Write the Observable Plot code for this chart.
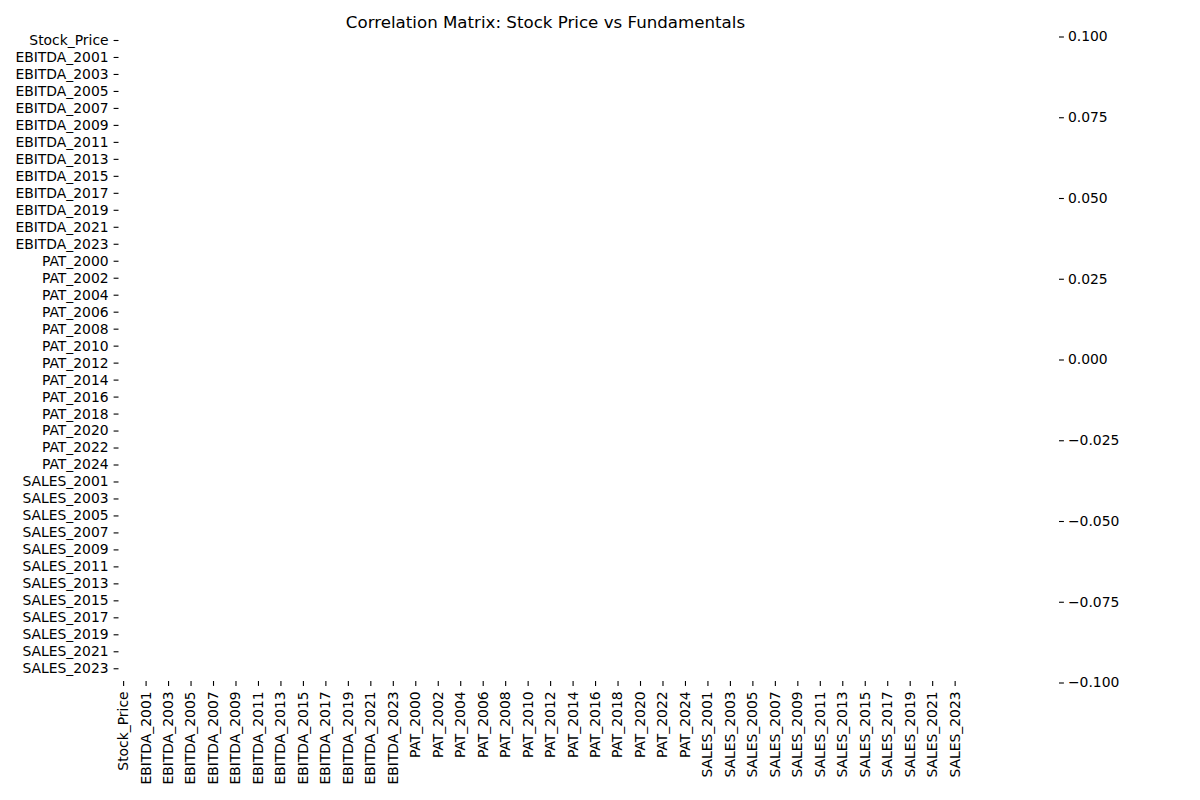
<!DOCTYPE html>
<html>
<head>
<meta charset="utf-8">
<script src="https://cdn.jsdelivr.net/npm/d3@7"></script>
<script src="https://cdn.jsdelivr.net/npm/@observablehq/plot@0.6"></script>
<style>
  html, body { margin: 0; padding: 0; background: #fff; }
  #wrap { position: relative; width: 1200px; height: 800px; font-family: "DejaVu Sans", sans-serif; }
  #title { position: absolute; left: 0; width: 1091px; top: 12.5px; text-align: center; font-size: 16.67px; color: #000; }
  #main, #cbar { position: absolute; top: 0; }
  #main { left: 0; }
  #cbar { left: 1000px; }
</style>
</head>
<body>
<div id="wrap">
  <div id="main"></div>
  <div id="cbar"></div>
  <div id="title">Correlation Matrix: Stock Price vs Fundamentals</div>
</div>
<script>
// Variables (rows and columns of the correlation matrix)
const variables = [
  "Stock_Price",
  "EBITDA_2000","EBITDA_2001","EBITDA_2002","EBITDA_2003","EBITDA_2004","EBITDA_2005","EBITDA_2006","EBITDA_2007","EBITDA_2008","EBITDA_2009",
  "EBITDA_2010","EBITDA_2011","EBITDA_2012","EBITDA_2013","EBITDA_2014","EBITDA_2015","EBITDA_2016","EBITDA_2017","EBITDA_2018","EBITDA_2019",
  "EBITDA_2020","EBITDA_2021","EBITDA_2022","EBITDA_2023","EBITDA_2024",
  "PAT_2000","PAT_2001","PAT_2002","PAT_2003","PAT_2004","PAT_2005","PAT_2006","PAT_2007","PAT_2008","PAT_2009",
  "PAT_2010","PAT_2011","PAT_2012","PAT_2013","PAT_2014","PAT_2015","PAT_2016","PAT_2017","PAT_2018","PAT_2019",
  "PAT_2020","PAT_2021","PAT_2022","PAT_2023","PAT_2024",
  "SALES_2000","SALES_2001","SALES_2002","SALES_2003","SALES_2004","SALES_2005","SALES_2006","SALES_2007","SALES_2008","SALES_2009",
  "SALES_2010","SALES_2011","SALES_2012","SALES_2013","SALES_2014","SALES_2015","SALES_2016","SALES_2017","SALES_2018","SALES_2019",
  "SALES_2020","SALES_2021","SALES_2022","SALES_2023","SALES_2024"
];

// Tick labels shown on both axes (every other variable)
const tickLabels = [
  "Stock_Price",
  "EBITDA_2001","EBITDA_2003","EBITDA_2005","EBITDA_2007","EBITDA_2009","EBITDA_2011",
  "EBITDA_2013","EBITDA_2015","EBITDA_2017","EBITDA_2019","EBITDA_2021","EBITDA_2023",
  "PAT_2000","PAT_2002","PAT_2004","PAT_2006","PAT_2008","PAT_2010","PAT_2012",
  "PAT_2014","PAT_2016","PAT_2018","PAT_2020","PAT_2022","PAT_2024",
  "SALES_2001","SALES_2003","SALES_2005","SALES_2007","SALES_2009","SALES_2011",
  "SALES_2013","SALES_2015","SALES_2017","SALES_2019","SALES_2021","SALES_2023"
];

// Colorbar tick values
const colorTicks = [-0.1, -0.075, -0.05, -0.025, 0, 0.025, 0.05, 0.075, 0.1];

// Correlation value for every pair: all undefined (NaN) in the source
const correlationValue = NaN;

const cells = [];
for (const row of variables) for (const col of variables) cells.push({x: col, y: row, r: correlationValue});

const fontStyle = {fontFamily: "DejaVu Sans, sans-serif", fontSize: "13.9px", color: "#000", background: "transparent"};

const main = Plot.plot({
  width: 1200,
  height: 800,
  marginLeft: 118.5,
  marginRight: 1200 - 972.5,
  marginTop: 35.75,
  marginBottom: 800 - 681,
  style: fontStyle,
  x: {domain: variables, padding: 0, round: false, axis: null},
  y: {domain: variables, padding: 0, round: false, axis: null},
  color: {type: "linear", domain: [-0.1, 0.1], scheme: "rdbu"},
  marks: [
    Plot.cell(cells, {x: "x", y: "y", fill: "r"}),
    Plot.axisY({ticks: tickLabels, tickSize: 4.9, tickPadding: 5.5, label: null, stroke: "#000", strokeWidth: 1.1, strokeOpacity: 1}),
    Plot.axisX({ticks: tickLabels, tickSize: 4.9, tickPadding: 5, tickRotate: -90, dx: -1, label: null, stroke: "#000", strokeWidth: 1.1, strokeOpacity: 1})
  ]
});
document.getElementById("main").appendChild(main);

const cbar = Plot.plot({
  width: 200,
  height: 800,
  marginLeft: 57,
  marginRight: 142,
  marginTop: 36.5,
  marginBottom: 800 - 682.5,
  style: fontStyle,
  x: {axis: null},
  y: {domain: [-0.1, 0.1], axis: null},
  marks: [
    Plot.axisY({anchor: "right", ticks: colorTicks, tickFormat: d3.format(".3f"), tickSize: 4.9, tickPadding: 4.5, label: null, stroke: "#000", strokeWidth: 1.1, strokeOpacity: 1})
  ]
});
document.getElementById("cbar").appendChild(cbar);
</script>
</body>
</html>
